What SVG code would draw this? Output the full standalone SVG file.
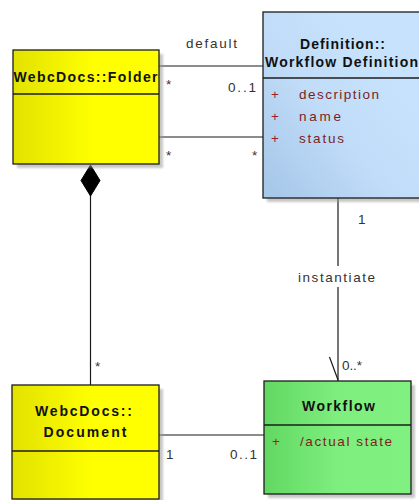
<svg xmlns="http://www.w3.org/2000/svg" width="419" height="500" viewBox="0 0 419 500">
  <defs>
    <linearGradient id="gYellow" x1="0" y1="0" x2="1" y2="0">
      <stop offset="0" stop-color="#e2e200"/>
      <stop offset="0.55" stop-color="#ffff00"/>
      <stop offset="1" stop-color="#ffff00"/>
    </linearGradient>
    <linearGradient id="gBlue" x1="0" y1="0.9" x2="0.7" y2="0.3">
      <stop offset="0" stop-color="#a8c8ea"/>
      <stop offset="0.55" stop-color="#c0dcf8"/>
      <stop offset="1" stop-color="#c6e2fc"/>
    </linearGradient>
    <linearGradient id="gGreen" x1="0" y1="0" x2="1" y2="0">
      <stop offset="0" stop-color="#62d862"/>
      <stop offset="0.5" stop-color="#7eee7e"/>
      <stop offset="1" stop-color="#80f080"/>
    </linearGradient>
    <filter id="soft" x="-10%" y="-10%" width="120%" height="120%">
      <feGaussianBlur stdDeviation="1"/>
    </filter>
  </defs>
  <style>
    .shadow { fill: #9a9a9a; opacity: 0.55; filter: url(#soft); }
    .box { stroke: #1c1c1c; stroke-width: 1.3; }
    .sep { stroke: #1c1c1c; stroke-width: 1.3; fill: none; }
    .title { font-family: "Liberation Sans", Arial, sans-serif; font-weight: bold; font-size: 14px; fill: #111; }
    .attr { font-family: "Liberation Sans", Arial, sans-serif; font-size: 13.5px; fill: #7a1f1f; }
    .vis { font-family: "Liberation Sans", Arial, sans-serif; font-size: 13.5px; fill: #a02020; }
    .lbl { font-family: "Liberation Sans", Arial, sans-serif; font-size: 13.5px; fill: #333; }
    .line { stroke: #1a1a1a; stroke-width: 1.2; fill: none; }
  </style>

  <rect width="419" height="500" fill="#ffffff"/>

  <!-- connectors -->
  <g id="connectors">
    <!-- default association Folder - Workflow Definition -->
    <line class="line" x1="159" y1="66" x2="263" y2="66"/>
    <text class="lbl" x="186" y="48" textLength="51" lengthAdjust="spacing">default</text>
    <text class="lbl" x="166" y="89">*</text>
    <text class="lbl" x="228" y="92" textLength="28" lengthAdjust="spacing">0..1</text>
    <!-- plain association Folder - Workflow Definition -->
    <line class="line" x1="159" y1="137" x2="263" y2="137"/>
    <text class="lbl" x="166" y="160">*</text>
    <text class="lbl" x="252" y="160">*</text>
    <!-- composition Folder - Document -->
    <line class="line" x1="90.5" y1="195" x2="90.5" y2="385"/>
    <polygon points="90.5,165 100,180.5 90.5,196 81,180.5" fill="#000" stroke="#000" stroke-width="1"/>
    <text class="lbl" x="95" y="371">*</text>
    <!-- instantiate: Workflow Definition to Workflow -->
    <line class="line" x1="338" y1="198" x2="338" y2="381"/>
    <path class="line" d="M329.5,357 L338,380"/>
    <rect x="296" y="266" width="82" height="21" fill="#ffffff"/>
    <text class="lbl" x="298" y="282" textLength="77" lengthAdjust="spacing">instantiate</text>
    <text class="lbl" x="358" y="224">1</text>
    <text class="lbl" x="342" y="370" textLength="20" lengthAdjust="spacing">0..*</text>
    <!-- association Document - Workflow -->
    <line class="line" x1="159" y1="435" x2="264" y2="435"/>
    <text class="lbl" x="166" y="459">1</text>
    <text class="lbl" x="230" y="459" textLength="27" lengthAdjust="spacing">0..1</text>
  </g>

  <!-- WebcDocs::Folder -->
  <g id="folder">
    <rect class="shadow" x="17" y="54" width="146" height="114"/>
    <rect class="box" x="13" y="50" width="146" height="114" fill="url(#gYellow)"/>
    <line class="sep" x1="13" y1="94" x2="159" y2="94"/>
    <text class="title" x="13.5" y="82" textLength="144" lengthAdjust="spacing">WebcDocs::Folder</text>
  </g>

  <!-- Definition::Workflow Definition -->
  <g id="workflow-definition">
    <rect class="shadow" x="267" y="16" width="170" height="186"/>
    <rect class="box" x="263" y="12" width="170" height="186" fill="url(#gBlue)"/>
    <line class="sep" x1="263" y1="78" x2="433" y2="78"/>
    <text class="title" x="300" y="49" textLength="85" lengthAdjust="spacing">Definition::</text>
    <text class="title" x="265" y="67" textLength="153" lengthAdjust="spacing">Workflow Definition</text>
    <text class="vis" x="271" y="99">+</text>
    <text class="attr" x="299" y="99" textLength="80" lengthAdjust="spacing">description</text>
    <text class="vis" x="271" y="121">+</text>
    <text class="attr" x="299" y="121" textLength="42" lengthAdjust="spacing">name</text>
    <text class="vis" x="271" y="142.5">+</text>
    <text class="attr" x="299" y="142.5" textLength="45" lengthAdjust="spacing">status</text>
  </g>

  <!-- WebcDocs::Document -->
  <g id="document">
    <rect class="shadow" x="16" y="389" width="147" height="114"/>
    <rect class="box" x="12" y="385" width="147" height="114" fill="url(#gYellow)"/>
    <line class="sep" x1="12" y1="451" x2="159" y2="451"/>
    <text class="title" x="35" y="416" textLength="97" lengthAdjust="spacing">WebcDocs::</text>
    <text class="title" x="43.5" y="437" textLength="83" lengthAdjust="spacing">Document</text>
  </g>

  <!-- Workflow -->
  <g id="workflow">
    <rect class="shadow" x="268" y="385" width="147" height="113"/>
    <rect class="box" x="264" y="381" width="147" height="113" fill="url(#gGreen)"/>
    <line class="sep" x1="264" y1="425" x2="411" y2="425"/>
    <text class="title" x="302" y="411" textLength="73" lengthAdjust="spacing">Workflow</text>
    <text class="vis" x="272" y="446">+</text>
    <text class="attr" x="300" y="446" textLength="92" lengthAdjust="spacing" fill="#8a3a18">/actual state</text>
  </g>
</svg>
